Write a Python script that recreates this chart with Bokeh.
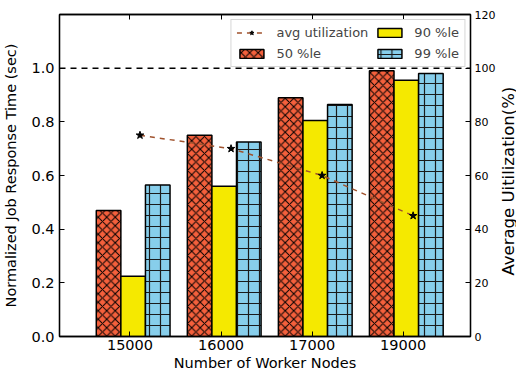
import math
from bokeh.plotting import figure
from bokeh.layouts import row
from bokeh.core.properties import value
from bokeh.models import (Range1d, LinearAxis, FixedTicker, PrintfTickFormatter, Span,
                          Legend, LegendItem, ColumnDataSource)
from bokeh.transform import dodge
from bokeh.embed import file_html
from bokeh.resources import INLINE

nodes = ["15000", "16000", "17000", "19000"]
p50 = [0.47, 0.75, 0.89, 0.99]
p90 = [0.225, 0.56, 0.805, 0.955]
p99 = [0.565, 0.725, 0.865, 0.98]
avg_util = [75, 70, 60, 45]
y_ticks = [0.0, 0.2, 0.4, 0.6, 0.8, 1.0]
util_ticks = [0, 20, 40, 60, 80, 100, 120]
right_title = "Average Uitilization(%)"

idx = list(range(len(nodes)))
src = ColumnDataSource(dict(x=idx, p50=p50, p90=p90, p99=p99, util=avg_util))

FONT = "DejaVu Sans"
p = figure(width=498, height=373, output_backend="svg", toolbar_location=None,
           x_range=Range1d(-0.774, 3.74), y_range=Range1d(0, 1.2),
           min_border_left=58, min_border_right=26, min_border_top=14, min_border_bottom=2)
p.extra_y_ranges = {"util": Range1d(0, 120)}
p.grid.visible = False
p.outline_line_color = "black"
p.outline_line_width = 1.3
p.background_fill_color = "white"

W = 0.27
r50 = p.vbar(x=dodge("x", -0.235), top="p50", width=W, source=src,
             fill_color="#f4603c", line_color="black", line_width=1.5,
             hatch_pattern="diagonal_cross", hatch_color="black", hatch_scale=8.5, hatch_weight=1)
r90 = p.vbar(x=dodge("x", 0.035), top="p90", width=W, source=src,
             fill_color="#f5e900", line_color="black", line_width=1.5)
r99 = p.vbar(x=dodge("x", 0.305), top="p99", width=W, source=src,
             fill_color="#87ceeb", line_color="black", line_width=1.5,
             hatch_pattern="cross", hatch_color="#1a1a1a", hatch_scale=11, hatch_weight=1.2)

p.add_layout(Span(location=1.0, dimension="width", line_color="black",
                  line_dash="6 5", line_width=1.5))

rl = p.line(x=dodge("x", 0.11), y="util", source=src, y_range_name="util",
            line_color="#a0522d", line_dash="5 5", line_width=1.5)
rs = p.scatter(x=dodge("x", 0.11), y="util", source=src, y_range_name="util",
               marker="star", size=8, fill_color="black", line_color="black")

bottom = p.below[0]
leftax = p.left[0]
bottom.ticker = FixedTicker(ticks=idx)
bottom.major_label_overrides = {i: n for i, n in zip(idx, nodes)}
bottom.axis_label = "Number of Worker Nodes"
leftax.ticker = FixedTicker(ticks=y_ticks)
leftax.formatter = PrintfTickFormatter(format="%.1f")
leftax.axis_label = "Normalized Job Response Time (sec)"

right = LinearAxis(y_range_name="util", ticker=FixedTicker(ticks=util_ticks))
p.add_layout(right, "right")
top = LinearAxis(ticker=FixedTicker(ticks=idx))
top.major_label_overrides = {i: "" for i in idx}
p.add_layout(top, "above")

for ax in (bottom, leftax, right, top):
    ax.axis_line_color = "black"
    ax.axis_line_width = 1.3
    ax.major_tick_in = 5
    ax.major_tick_out = 0
    ax.major_tick_line_color = "black"
    ax.major_tick_line_width = 1
    ax.minor_tick_line_color = None
    ax.major_label_text_font = FONT
    ax.major_label_text_color = "black"
    ax.axis_label_text_font = FONT
    ax.axis_label_text_font_style = "normal"
    ax.axis_label_text_color = "black"

top.major_label_standoff = 0

for ax in (bottom, leftax):
    ax.major_label_text_font_size = "14.5px"
    ax.axis_label_text_font_size = "14.5px"
bottom.major_label_standoff = 3
bottom.axis_label_standoff = 2
leftax.major_label_standoff = 5
leftax.axis_label_standoff = 9
right.major_label_text_font_size = "11px"
right.major_label_standoff = 4

legend = Legend(items=[LegendItem(label="avg utilization", renderers=[rl, rs]),
                       LegendItem(label="50 %le", renderers=[r50]),
                       LegendItem(label="90 %le", renderers=[r90]),
                       LegendItem(label="99 %le", renderers=[r99])],
                ncols=2, location="top_right")
legend.label_text_font = FONT
legend.label_text_font_size = "13px"
legend.glyph_width = 30
legend.glyph_height = 11
legend.label_height = 13
legend.label_standoff = 10
legend.spacing = 6
legend.padding = 5
legend.margin = 5
legend.border_line_color = "#b0b0b0"
legend.border_line_width = 1.5
legend.background_fill_alpha = 1
p.add_layout(legend)

# narrow strip holding the right-hand title, reading bottom to top
t = figure(width=18, height=373, output_backend="svg", toolbar_location=None,
           x_range=Range1d(0, 18), y_range=Range1d(0, 373),
           min_border=0, outline_line_color=None)
t.axis.visible = False
t.grid.visible = False
t.text(x=[9.5], y=[180], text=[right_title], angle=math.pi / 2,
       text_align="center", text_baseline="middle",
       text_font=value(FONT), text_font_size="16.5px", text_color="black")

layout = row(p, t, spacing=0)
open("out.html", "w").write(file_html(layout, INLINE))
